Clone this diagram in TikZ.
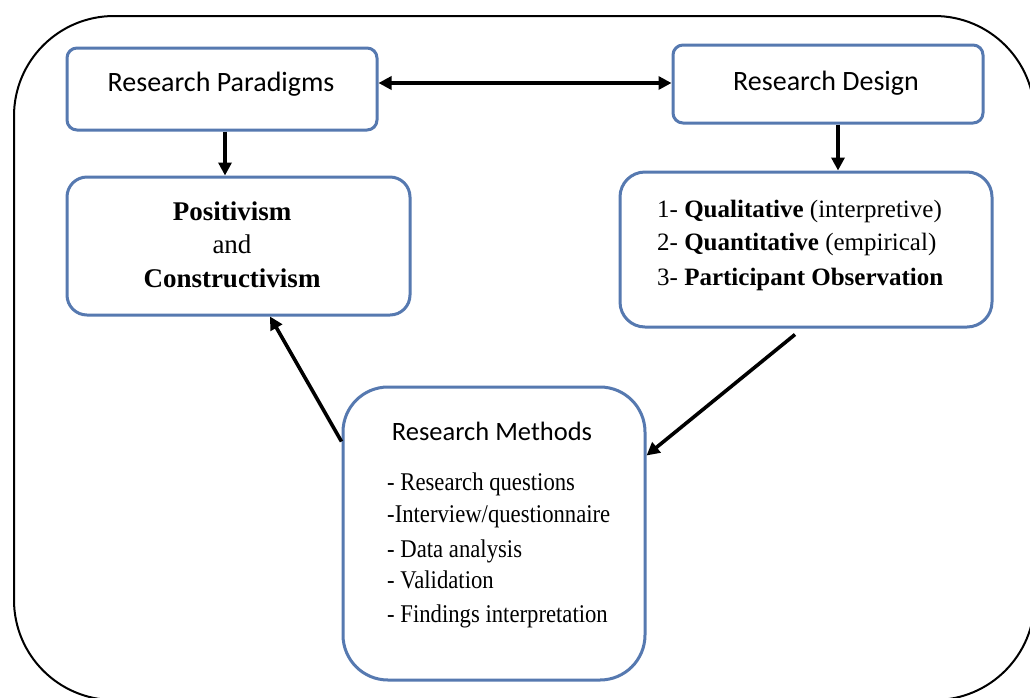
\documentclass[tikz,border=0pt]{standalone}
\usepackage{fontspec}
\setmainfont{Liberation Serif}
\newfontfamily\carl{Carlito}
\usetikzlibrary{arrows.meta}
\definecolor{boxblue}{RGB}{86,121,176}
\newcommand{\narrow}[1]{\scalebox{0.89}[1]{#1}}
\tikzset{
  box/.style={draw=boxblue, line width=3pt, fill=white, rectangle, inner sep=0pt},
  conn/.style={line width=3.6pt, -{Triangle[length=13pt,width=13pt]}},
  head/.style={inner sep=0pt, font=\carl\fontsize{28}{32}\selectfont},
  sline/.style={inner sep=0pt, font=\fontsize{27}{32}\selectfont},
  qline/.style={inner sep=0pt, anchor=base west, font=\fontsize{25}{30}\selectfont},
  mline/.style={inner sep=0pt, anchor=base west, font=\fontsize{25.5}{30}\selectfont},
}
\begin{document}
\begin{tikzpicture}[x=1pt,y=-1pt]
\useasboundingbox (0,0) rectangle (1030,697);
\fill[white] (0,0) rectangle (1030,697);
\begin{scope}
\clip (0,0) rectangle (1030,697);
\draw[line width=2pt, rounded corners=100pt] (14,16) rectangle (1034.5,700);
\end{scope}
% boxes
\node[box, rounded corners=10pt, minimum width=310pt, minimum height=82pt] (rp) at (222,89) {};
\node[box, rounded corners=20pt, minimum width=343pt, minimum height=138pt] (pos) at (238.5,246) {};
\node[box, rounded corners=10pt, minimum width=310pt, minimum height=78pt] (rd) at (828,84) {};
\node[box, rounded corners=25pt, minimum width=372pt, minimum height=155pt] (qual) at (806,249.5) {};
\node[box, rounded corners=45pt, minimum width=302pt, minimum height=293pt] (rm) at (494,533.5) {};
% texts
\node[head, anchor=base] (rpt) at (221,91) {Research Paradigms};
\node[head, anchor=base] (rdt) at (826,90) {Research Design};
\node[sline, anchor=base] (p1) at (232,220) {\bfseries Positivism};
\node[sline, anchor=base] (p2) at (232,253) {and};
\node[sline, anchor=base] (p3) at (232,287) {\bfseries Constructivism};
\node[qline] (q1) at (657,217) {1- \textbf{Qualitative} (interpretive)};
\node[qline] (q2) at (657,250) {2- \textbf{Quantitative} (empirical)};
\node[qline] (q3) at (657,285) {3- \textbf{Participant Observation}};
\node[head, anchor=base, font=\carl\fontsize{26.5}{30}\selectfont] (rmt) at (492,440) {Research Methods};
\node[mline] (m1) at (387,490) {\narrow{- Research questions}};
\node[mline] (m2) at (387,522) {\narrow{-Interview/questionnaire}};
\node[mline] (m3) at (387,557) {\narrow{- Data analysis}};
\node[mline] (m4) at (387,588) {\narrow{- Validation}};
\node[mline] (m5) at (387,622) {\narrow{- Findings interpretation}};
% connectors
\draw[conn, {Triangle[length=13pt,width=13pt]}-{Triangle[length=13pt,width=13pt]}] ([yshift=6pt]rp.east) -- ([yshift=1pt]rd.west);
\draw[conn] ([xshift=3pt]rp.south) -- ([xshift=-13.5pt]pos.north);
\draw[conn] ([xshift=10pt]rd.south) -- ([xshift=32pt]qual.north);
\draw[conn] ([yshift=-56pt]rm.north west) -- ([xshift=31.5pt]pos.south);
\coordinate (qs) at ([xshift=-11pt]qual.south);
\draw[conn] ([yshift=-6pt]qs) -- ([yshift=-70pt]rm.north east);
\end{tikzpicture}
\end{document}
